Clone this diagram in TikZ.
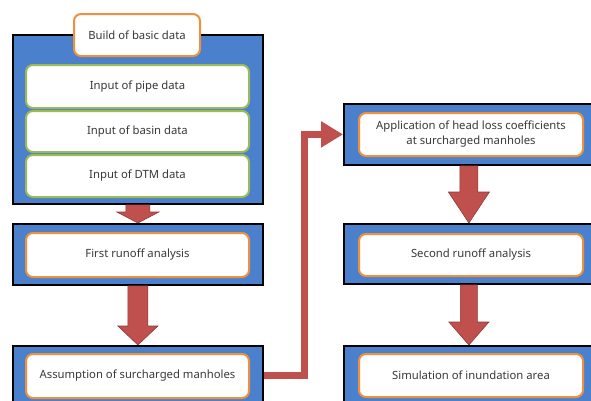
\documentclass[tikz,border=0pt]{standalone}
\usepackage{fontspec}
\setmainfont{Noto Sans}
\usetikzlibrary{calc,arrows.meta}
\definecolor{boxblue}{HTML}{4A80CC}
\definecolor{arrred}{HTML}{C0504D}
\definecolor{arrdark}{HTML}{8E3A38}
\definecolor{orangeb}{HTML}{F0903E}
\definecolor{greenb}{HTML}{9BBB59}
\definecolor{txt}{HTML}{383838}
\tikzset{
  outerbox/.style={rectangle, draw=black, line width=1.8pt, fill=boxblue, anchor=north west, inner sep=0pt},
  innerbox/.style={rectangle, draw=orangeb, line width=2pt, fill=white, rounded corners=7pt, anchor=north west, inner sep=0pt, text=txt, font=\fontsize{11.3}{15}\selectfont, align=center},
  greenbox/.style={innerbox, draw=greenb},
  fat/.style={fill=arrred, draw=arrdark, line width=0.6pt, line join=miter},
  connector/.style={draw=arrred, line width=7pt, -{Triangle[length=22pt,width=25pt]}}
}
\newcommand\fatarr[5]{%
  \draw[fat] ($(#1.south)+(-#3,0)$) -- ($(#2.north)+(-#3,-#5)$) -- ($(#2.north)+(-#4,-#5)$) -- (#2.north) -- ($(#2.north)+(#4,-#5)$) -- ($(#2.north)+(#3,-#5)$) -- ($(#1.south)+(#3,0)$) -- cycle;}
\begin{document}
\begin{tikzpicture}[x=1pt,y=-1pt]
\useasboundingbox (0,0) rectangle (591,400);
% left column
\node[outerbox, minimum width=250pt, minimum height=169pt] (b1) at (12,34) {};
\node[innerbox, minimum width=126pt, minimum height=42pt] (tab) at (73,13) {Build of basic data};
\node[greenbox, minimum width=223pt, minimum height=43pt] (pipe) at (25,64) {Input of pipe data};
\node[greenbox, minimum width=223pt, minimum height=41pt] (basin) at (25,110) {Input of basin data};
\node[greenbox, minimum width=223pt, minimum height=42pt] (dtm) at (25,154) {Input of DTM data};
\node[outerbox, minimum width=250pt, minimum height=61pt] (b2) at (12,223) {};
\node[innerbox, minimum width=223pt, minimum height=44pt] (first) at (25,232) {First runoff analysis};
\node[outerbox, minimum width=250pt, minimum height=60pt] (b3) at (12,345) {};
\node[innerbox, minimum width=223pt, minimum height=44pt] (assum) at (25,353) {Assumption of surcharged manholes};
% right column
\node[outerbox, minimum width=250pt, minimum height=61pt] (bA) at (343,103) {};
\node[innerbox, minimum width=224pt, minimum height=43pt] (appl) at (358,112) {Application of head loss coefficients\\at surcharged manholes};
\node[outerbox, minimum width=250pt, minimum height=60pt] (bB) at (343,223) {};
\node[innerbox, minimum width=224pt, minimum height=42pt] (second) at (358,233) {Second runoff analysis};
\node[outerbox, minimum width=250pt, minimum height=60pt] (bC) at (343,345) {};
\node[innerbox, minimum width=224pt, minimum height=43pt] (simul) at (358,353) {Simulation of inundation area};
% block arrows
\fatarr{b1}{b2}{12}{21}{11}
\fatarr{b2}{b3}{10}{20}{19}
\fatarr{bA}{bB}{9}{20.5}{31}
\fatarr{bB}{bC}{8.5}{20}{23}
% connector
\draw[connector] (b3.east) -- ++(41,0) |- (bA.west);
\end{tikzpicture}
\end{document}
